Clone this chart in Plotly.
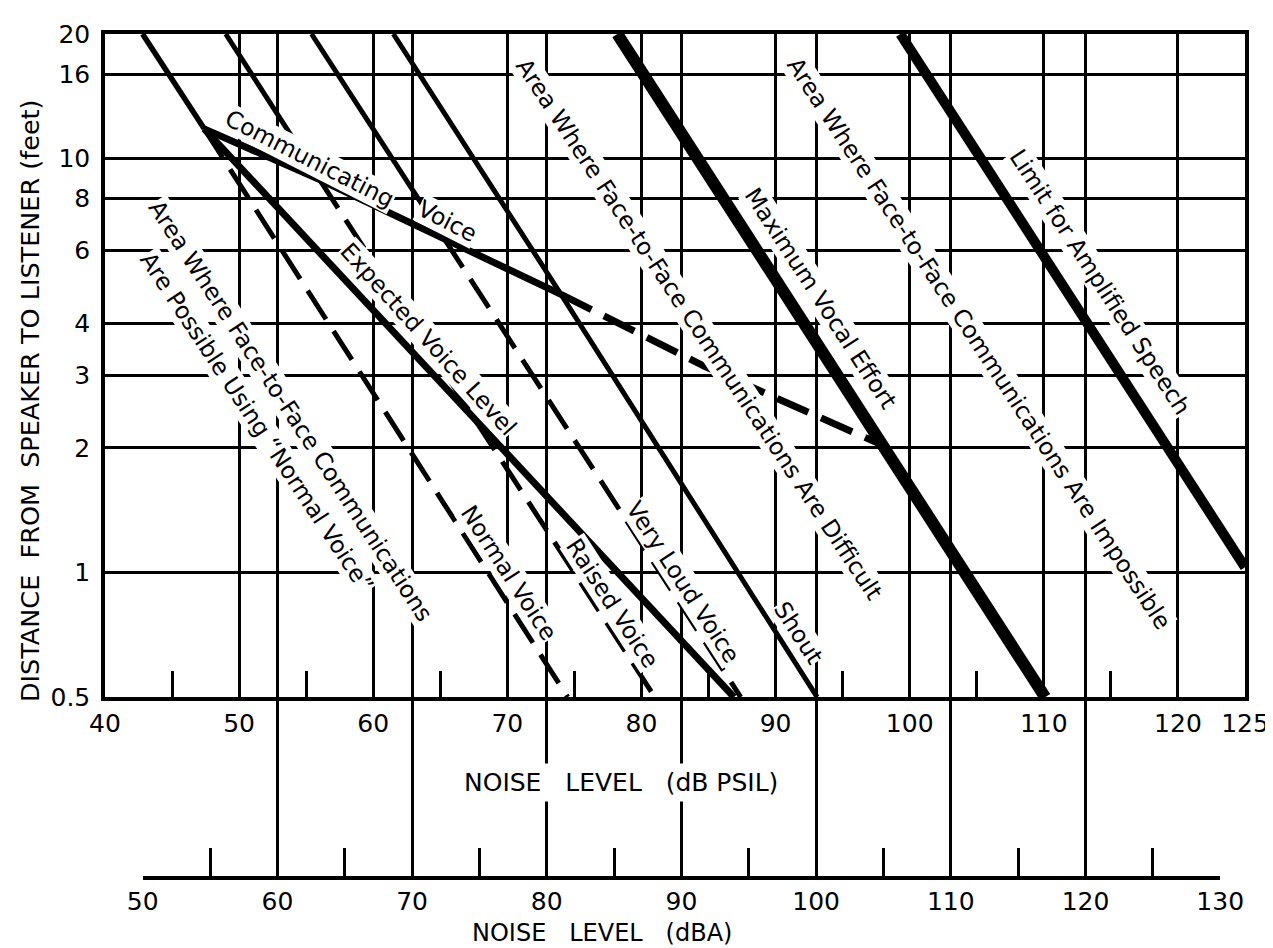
import math
import plotly.graph_objects as go

# ---------------- data ----------------
# x = noise level (dB PSIL), y = distance from speaker to listener (feet)
normal_solid_psil = [42.8, 47.4]
normal_solid_dist = [20, 11.8]
normal_dash_psil = [47.4, 74.5]
normal_dash_dist = [11.8, 0.5]

raised_solid_psil = [49.0, 56.0]
raised_solid_dist = [20, 8.9]
raised_dash_psil = [56.0, 81.0]
raised_dash_dist = [8.9, 0.5]

veryloud_solid_psil = [55.4, 65.3]
veryloud_solid_dist = [20, 6.4]
veryloud_dash_psil = [65.3, 87.4]
veryloud_dash_dist = [6.4, 0.5]

shout_psil = [61.5, 74.0, 93.1]
shout_dist = [20, 4.7, 0.5]

max_vocal_psil = [78.2, 110.1]
max_vocal_dist = [20, 0.5]

amplified_psil = [99.3, 125.0]
amplified_dist = [20, 1.03]

expected_psil = [47.4, 86.9]
expected_dist = [11.8, 0.5]

comm_solid_psil = [47.4, 56.0, 65.3, 74.0]
comm_solid_dist = [11.8, 8.9, 6.4, 4.7]
comm_dash_psil = [74.0, 84.7, 98.0]
comm_dash_dist = [4.7, 3.15, 2.03]

psil_ticks = [40, 50, 60, 70, 80, 90, 100, 110, 120, 125]
psil_minor = [45, 55, 65, 75, 85, 95, 105, 115]
dba_ticks = [50, 60, 70, 80, 90, 100, 110, 120, 130]
dba_minor = [55, 65, 75, 85, 95, 105, 115, 125]
dist_ticks = [0.5, 1, 2, 3, 4, 6, 8, 10, 16, 20]

# labels: text, PSIL, distance, angle
labels = [
    ("Communicating", 55.3, 10.0, 27),
    ("Voice", 65.5, 7.05, 27),
    ("Expected Voice Level", 64.1, 3.67, 48),
    ("Normal Voice", 70.1, 0.996, 57),
    ("Raised Voice", 77.8, 0.843, 57),
    ("Very Loud Voice", 83.1, 0.95, 57),
    ("Shout", 91.7, 0.714, 57),
    ("Area Where Face-to-Face Communications Are Difficult", 84.3, 3.88, 56.5),
    ("Maximum Vocal Effort", 93.4, 4.59, 57),
    ("Area Where Face-to-Face Communications Are Impossible", 105.2, 3.57, 56.7),
    ("Limit for Amplified Speech", 114.2, 5.04, 57),
    ("Area Where Face-to-Face Communications", 53.85, 2.46, 56.8),
    ("Are Possible Using \u201cNormal Voice\u201d", 51.3, 2.31, 56.5),
]

FONT = "DejaVu Sans"
BLACK = "black"
DASH = "34px,14px"
LABEL_SIZE = 23.5

fig = go.Figure()


def add_line(x, y, width, dash="solid"):
    fig.add_trace(go.Scatter(x=x, y=y, mode="lines",
                             line=dict(color=BLACK, width=width, dash=dash),
                             hoverinfo="skip", showlegend=False))


add_line(normal_solid_psil, normal_solid_dist, 5.5)
add_line(normal_dash_psil, normal_dash_dist, 5, DASH)
add_line(raised_solid_psil, raised_solid_dist, 5)
add_line(raised_dash_psil, raised_dash_dist, 5, DASH)
add_line(veryloud_solid_psil, veryloud_solid_dist, 5)
add_line(veryloud_dash_psil, veryloud_dash_dist, 5, DASH)
add_line(shout_psil, shout_dist, 5)
add_line(max_vocal_psil, max_vocal_dist, 12)
add_line(amplified_psil, amplified_dist, 10)
add_line(expected_psil, expected_dist, 7)
add_line(comm_solid_psil, comm_solid_dist, 7)
add_line(comm_dash_psil, comm_dash_dist, 7, DASH)

# invisible trace so that the dBA scale subplot exists
fig.add_trace(go.Scatter(x=[dba_ticks[0]], y=[dist_ticks[0]], xaxis="x2", yaxis="y",
                         mode="markers", marker=dict(opacity=0),
                         hoverinfo="skip", showlegend=False))

# ---------------- geometry ----------------
W, H = 1273, 948
ML, MR, MT, MB = 97, 28, 25, 78
plot_w = W - ML - MR
plot_h = H - MT - MB
y_bottom_px = 689
ydom0 = (H - MB - y_bottom_px) / plot_h
dba_left_px, dba_right_px = 135, 1220
x2dom = [(dba_left_px - ML) / plot_w, (dba_right_px - ML) / plot_w]
tick_up = (H - MB) - y_bottom_px
GRID_W = 3

fig.update_layout(
    width=W, height=H,
    margin=dict(l=ML, r=MR, t=MT, b=MB, pad=0),
    paper_bgcolor="white", plot_bgcolor="rgba(0,0,0,0)",
    showlegend=False,
    font=dict(family=FONT, color=BLACK, size=20),
    xaxis=dict(
        type="linear", range=[40, 125], domain=[0, 1], anchor="y",
        tickmode="array", tickvals=psil_ticks, ticktext=[str(v) for v in psil_ticks],
        showgrid=True, gridcolor=BLACK, gridwidth=GRID_W,
        showline=True, linecolor=BLACK, linewidth=3.5, mirror=True,
        ticks="", tickfont=dict(size=25, family=FONT), zeroline=False,
        ticklabelstandoff=1,
        minor=dict(tickmode="array", tickvals=psil_minor, ticks="inside",
                   ticklen=26, tickwidth=GRID_W, tickcolor=BLACK, showgrid=False),
    ),
    xaxis2=dict(
        type="linear", range=[dba_ticks[0], dba_ticks[-1]], domain=x2dom,
        anchor="free", position=0,
        tickmode="array", tickvals=dba_ticks, ticktext=[str(v) for v in dba_ticks],
        ticks="inside", ticklen=tick_up, tickwidth=GRID_W, tickcolor=BLACK,
        showgrid=True, gridcolor=BLACK, gridwidth=GRID_W,
        showline=True, linecolor=BLACK, linewidth=3.5, zeroline=False,
        tickfont=dict(size=25, family=FONT),
        minor=dict(tickmode="array", tickvals=dba_minor, ticks="inside",
                   ticklen=28, tickwidth=GRID_W, tickcolor=BLACK, showgrid=False),
    ),
    yaxis=dict(
        type="log", range=[math.log10(0.5), math.log10(20)], domain=[ydom0, 1],
        anchor="x", tickmode="array", tickvals=dist_ticks,
        ticktext=[str(v) for v in dist_ticks],
        showgrid=True, gridcolor=BLACK, gridwidth=GRID_W,
        showline=True, linecolor=BLACK, linewidth=3.5, mirror=True,
        ticks="", tickfont=dict(size=25, family=FONT), zeroline=False,
        ticklabelstandoff=6,
    ),
)

for text, px_, d, ang in labels:
    fig.add_annotation(x=px_, y=math.log10(d), xref="x", yref="y", text=text,
                       showarrow=False, textangle=ang,
                       xanchor="center", yanchor="middle",
                       font=dict(family=FONT, size=LABEL_SIZE, color=BLACK),
                       bgcolor="white", borderpad=0)


def paper_x(px_):
    return (px_ - ML) / plot_w


def paper_y(py):
    return (H - MB - py) / plot_h


SP = "\u00a0\u00a0\u00a0"
fig.add_annotation(x=paper_x(21), y=paper_y(392), xref="paper", yref="paper",
                   xanchor="center", yanchor="middle",
                   text="DISTANCE\u00a0\u00a0FROM\u00a0\u00a0SPEAKER TO LISTENER (feet)",
                   textangle=-90, showarrow=False,
                   font=dict(family=FONT, size=25.5, color=BLACK))
fig.add_annotation(x=paper_x(617), y=paper_y(774), xref="paper", yref="paper",
                   xanchor="center", yanchor="middle",
                   text="NOISE" + SP + "LEVEL" + SP + "(dB PSIL)",
                   showarrow=False, bgcolor="white", borderpad=4,
                   font=dict(family=FONT, size=25, color=BLACK))
fig.add_annotation(x=paper_x(597), y=paper_y(925), xref="paper", yref="paper",
                   xanchor="center", yanchor="middle",
                   text="NOISE" + SP + "LEVEL" + SP + "(dBA)",
                   showarrow=False,
                   font=dict(family=FONT, size=24, color=BLACK))

fig.write_html("out.html")
